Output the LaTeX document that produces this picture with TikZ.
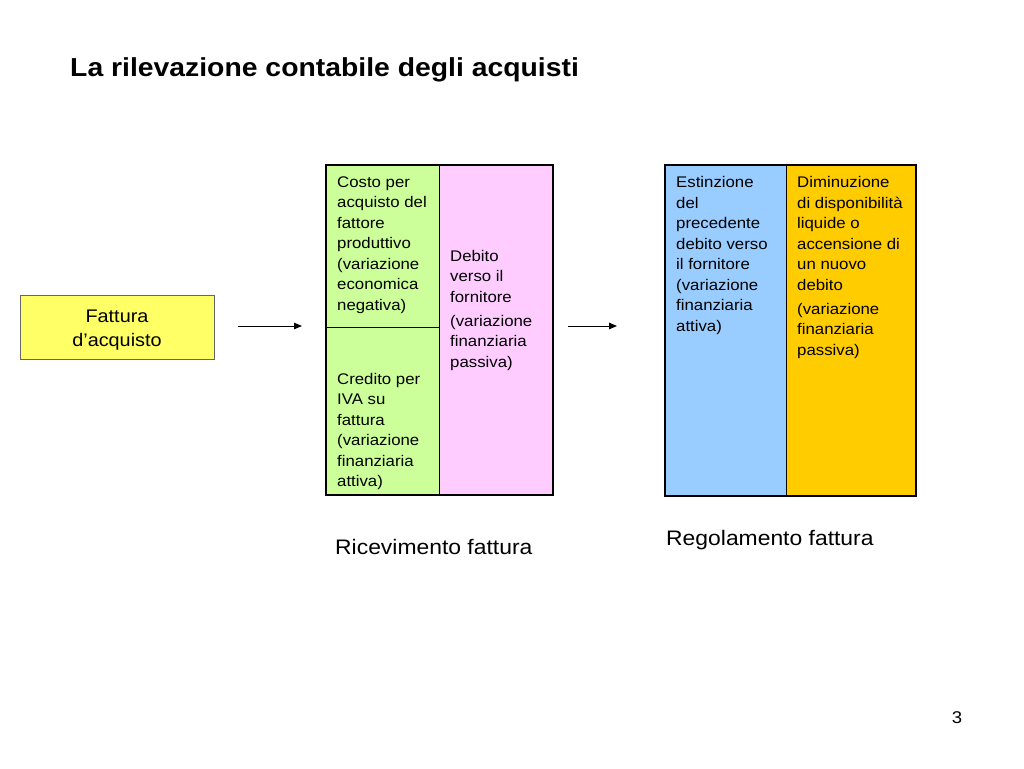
\documentclass[tikz,border=0pt]{standalone}
\usepackage{fontspec}
\setmainfont{Liberation Sans}[FakeStretch=1.09]
\usetikzlibrary{arrows.meta}
\definecolor{cgreen}{HTML}{CCFF99}
\definecolor{cpink}{HTML}{FFCCFF}
\definecolor{cblue}{HTML}{99CCFF}
\definecolor{corange}{HTML}{FFCC00}
\definecolor{cyellow}{HTML}{FFFF66}
\tikzset{
  cell/.style={draw=black, line width=1pt, anchor=north west, inner sep=0pt, minimum width=#1},
  frame/.style={draw=black, line width=2.5pt},
  celltext/.style={anchor=north west, inner sep=0pt, align=left, font=\fontsize{15.4}{20.5}\selectfont},
  label/.style={font=\fontsize{21}{25}\selectfont, inner sep=0pt, anchor=base west},
  flow/.style={-{Triangle[length=8pt,width=6.5pt]}, line width=1pt},
}
\begin{document}
\begin{tikzpicture}[x=1pt,y=-1pt]
\useasboundingbox (0,0) rectangle (1024,768);
\fill[white] (0,0) rectangle (1024,768);
% title
\node[anchor=base west, inner sep=0pt, font=\fontsize{26}{30}\selectfont\bfseries] (title) at (70,76) {La rilevazione contabile degli acquisti};
% fattura box
\node[draw=black!60, line width=0.8pt, fill=cyellow, minimum width=194pt, minimum height=64pt, inner sep=0pt] (fattura) at (117,327) {};
\node[inner sep=0pt, align=center, font=\fontsize{18.2}{23.5}\selectfont] (tfattura) at (117,330) {Fattura\\d’acquisto};
% left table
\node[cell=113pt, minimum height=162pt, fill=cgreen] (costo) at (326,165) {};
\node[cell=113pt, minimum height=168pt, fill=cgreen] (credito) at (326,327) {};
\node[cell=114pt, minimum height=330pt, fill=cpink] (debito) at (439,165) {};
\draw[frame] (326,165) rectangle (553,495);
\node[celltext] (tcosto) at (337,176.5) {Costo per\\acquisto del\\fattore\\produttivo\\(variazione\\economica\\negativa)};
\node[celltext] (tcredito) at (337,373) {Credito per\\IVA su\\fattura\\(variazione\\finanziaria\\attiva)};
\node[celltext] (tdebito) at (450,250) {Debito\\verso il\\fornitore\\[3.5pt](variazione\\finanziaria\\passiva)};
% right table
\node[cell=121pt, minimum height=331pt, fill=cblue] (estinzione) at (665,165) {};
\node[cell=130pt, minimum height=331pt, fill=corange] (diminuzione) at (786,165) {};
\draw[frame] (665,165) rectangle (916,496);
\node[celltext] (testinzione) at (676,176.5) {Estinzione\\del\\precedente\\debito verso\\il fornitore\\(variazione\\finanziaria\\attiva)};
\node[celltext] (tdiminuzione) at (797,176.5) {Diminuzione\\di disponibilità\\liquide o\\accensione di\\un nuovo\\debito\\[3.5pt](variazione\\finanziaria\\passiva)};
% arrows
\coordinate (a1s) at (238,326);
\coordinate (a1e) at (302,326);
\coordinate (a2s) at (568,326);
\coordinate (a2e) at (617,326);
\draw[flow] (a1s) -- (a1e);
\draw[flow] (a2s) -- (a2e);
% labels
\node[label] (ricevimento) at (335,554) {Ricevimento fattura};
\node[label] (regolamento) at (666,545) {Regolamento fattura};
\node[font=\fontsize{17}{20}\selectfont, inner sep=0pt, anchor=base] (page) at (957,723) {3};
\end{tikzpicture}
\end{document}
